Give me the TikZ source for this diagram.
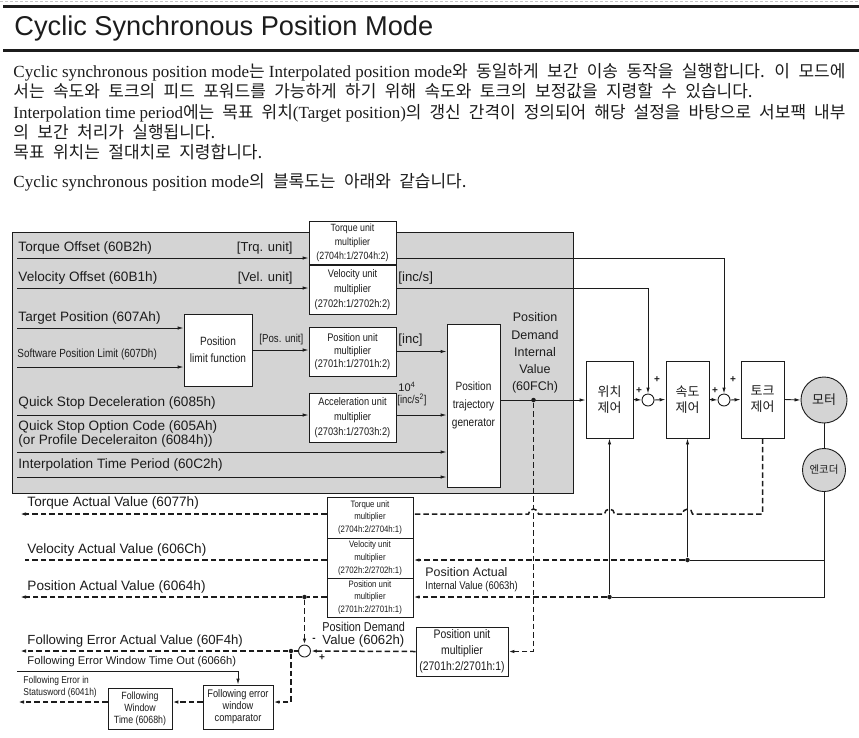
\documentclass[tikz,border=0pt]{standalone}
\usepackage{fontspec}
\setmainfont{Liberation Serif}
\setsansfont{Liberation Sans}
\newfontfamily\kor{Noto Sans CJK KR}
\newfontfamily\kortxt{Noto Sans CJK KR}[WordSpace=2.2]
\newfontfamily\narrowsf{Liberation Sans}[FakeStretch=0.84]
\usetikzlibrary{arrows.meta}
\definecolor{panel}{RGB}{212,212,212}
\definecolor{ink}{RGB}{28,28,28}
\newcommand\fsz[2]{\fontsize{#1}{#2}\selectfont}

\begin{document}
\begin{tikzpicture}[
  x=1pt, y=-1pt, line width=0.9pt, color=ink,
  blk/.style={draw,fill=white,inner sep=0pt,align=center,font=\narrowsf\fsz{11}{13}},
  sum/.style={circle,draw,fill=white,minimum size=12pt,inner sep=0pt},
  jdot/.style={circle,fill,minimum size=4.5pt,inner sep=0pt},
  lbl/.style={anchor=west,inner sep=0pt,font=\sffamily\fsz{13.6}{16}},
  sgn/.style={inner sep=0pt,font=\sffamily\bfseries\fsz{10}{10}},
  fbk/.style={dash pattern=on 5.5pt off 3pt,line width=1.5pt},
  arr/.style={-{Latex[length=6pt,width=3.5pt]}},
  txt/.style={anchor=base west,inner sep=0pt,font=\fsz{17}{20}}
]
  \fill[white] (0,0) rectangle (859,737);
  \useasboundingbox (0,0) rectangle (859,737);
  \draw[gray!45,dash pattern=on 3pt off 2pt,line width=0.5pt] (0,1.5) -- (859,1.5);
  \draw[line width=3pt] (3,6.5) -- (859,6.5);
  \node[anchor=base west,inner sep=0pt,font=\sffamily\fsz{27.2}{30}] (title) at (14,35) {Cyclic Synchronous Position Mode};
  \draw[line width=3pt] (3,50) -- (859,50);

  \node[txt] (l1) at (13,77.5) {\makebox[832pt][s]{Cyclic synchronous position mode{\kortxt 는} Interpolated position mode{\kortxt 와 동일하게 보간 이송 동작을 실행합니다. 이 모드에}}};
  \node[txt] (l2) at (13,97.8) {\kortxt 서는 속도와 토크의 피드 포워드를 가능하게 하기 위해 속도와 토크의 보정값을 지령할 수 있습니다.};
  \node[txt] (l3) at (13,118) {\makebox[832pt][s]{Interpolation time period{\kortxt 에는 목표 위치}(Target position){\kortxt 의 갱신 간격이 정의되어 해당 설정을 바탕으로 서보팩 내부}}};
  \node[txt] (l4) at (13,138.2) {\kortxt 의 보간 처리가 실행됩니다.};
  \node[txt] (l5) at (13,158.5) {\kortxt 목표 위치는 절대치로 지령합니다.};
  \node[txt] (l6) at (13,187) {Cyclic synchronous position mode{\kortxt 의 블록도는 아래와 같습니다.}};

  \draw[fill=panel] (12,232) rectangle (573,493);

  \node[blk,minimum width=87pt,minimum height=43pt,font=\narrowsf\fsz{10.5}{14}] (tqm) at (352.5,242.5) {Torque unit\\multiplier\\(2704h:1/2704h:2)};
  \node[blk,minimum width=87pt,minimum height=49pt,font=\narrowsf\fsz{11}{15}] (vlm) at (352.5,289.5) {Velocity unit\\multiplier\\(2702h:1/2702h:2)};
  \node[blk,minimum width=68pt,minimum height=72pt,font=\narrowsf\fsz{12}{17}] (plf) at (218,350) {Position\\limit function};
  \node[blk,minimum width=87pt,minimum height=49pt,font=\narrowsf\fsz{11}{13}] (psm) at (352.5,351.5) {Position unit\\multiplier\\(2701h:1/2701h:2)};
  \node[blk,minimum width=87pt,minimum height=49pt,font=\narrowsf\fsz{11}{15}] (acm) at (352.5,417.5) {Acceleration unit\\multiplier\\(2703h:1/2703h:2)};
  \node[blk,minimum width=53pt,minimum height=163pt,font=\narrowsf\fsz{12}{18}] (ptg) at (473.5,405.5) {Position\\trajectory\\generator};

  \node[blk,minimum width=47pt,minimum height=77pt,font=\kor\fsz{13}{16}] (pc) at (609.5,399.5) {위치\\제어};
  \node[blk,minimum width=43pt,minimum height=77pt,font=\kor\fsz{13}{16}] (vc) at (687.5,399.5) {속도\\제어};
  \node[blk,minimum width=43pt,minimum height=77pt,font=\kor\fsz{13}{16}] (tc) at (762.5,399.5) {토크\\제어};
  \node[sum] (s1) at (648,400) {};
  \node[sum] (s2) at (724,400) {};
  \node[circle,draw,fill=panel,minimum size=46pt,inner sep=0pt,font=\kor\fsz{13}{15}] (mot) at (824,400) {모터};
  \node[circle,draw,fill=panel,minimum size=43pt,inner sep=0pt,font=\kor\fsz{10.5}{12}] (enc) at (824,470) {엔코더};

  \node[blk,minimum width=86pt,minimum height=41pt,font=\narrowsf\fsz{9.3}{12.8}] (tqf) at (370,517.5) {Torque unit\\multiplier\\(2704h:2/2704h:1)};
  \node[blk,minimum width=86pt,minimum height=40pt,font=\narrowsf\fsz{9.3}{12.8}] (vlf) at (370,558) {Velocity unit\\multiplier\\(2702h:2/2702h:1)};
  \node[blk,minimum width=86pt,minimum height=39pt,font=\narrowsf\fsz{9.3}{12.5}] (psf) at (370,597.5) {Position unit\\multiplier\\(2701h:2/2701h:1)};
  \node[blk,minimum width=92pt,minimum height=49pt,font=\narrowsf\fsz{12.4}{16}] (pdm) at (462,651.5) {Position unit\\multiplier\\(2701h:2/2701h:1)};
  \node[sum] (s3) at (304.5,651) {};
  \node[blk,minimum width=70pt,minimum height=44pt,font=\narrowsf\fsz{11}{12}] (cmp) at (238,707) {Following error\\window\\comparator};
  \node[blk,minimum width=64pt,minimum height=41pt,font=\narrowsf\fsz{10.5}{12}] (fwt) at (140,708.5) {Following\\Window\\Time (6068h)};

  \node[jdot] (d1) at (533.5,400) {};
  \node[jdot] (d2) at (609.5,597) {};
  \node[jdot] (d3) at (687.5,560) {};
  \node[jdot] (d4) at (304.5,597) {};
  \node[jdot] (d5) at (291,651) {};

  \coordinate (i1) at (17,258);
  \coordinate (i2) at (17,288);
  \coordinate (i3) at (17,328);
  \coordinate (i4) at (17,367);
  \coordinate (i5) at (17,415);
  \coordinate (i6) at (17,452);
  \coordinate (i7) at (17,477);
  \coordinate (o1) at (20,514);
  \coordinate (o2) at (25,560);
  \coordinate (o3) at (20,597);
  \coordinate (o4) at (20,651);
  \coordinate (o5) at (18,702);
  \coordinate (w1) at (17,671);

  \draw[arr] (i1) -- (i1 -| tqm.west);
  \draw[arr] (i2) -- (i2 -| vlm.west);
  \draw[arr] (i3) -- (i3 -| plf.west);
  \draw[arr] (i4) -- (i4 -| plf.west);
  \draw[arr] (plf.east) -- (plf.east -| psm.west);
  \draw[arr] (psm.east) -- (psm.east -| ptg.west);
  \draw[arr] (i5) -- (i5 -| acm.west);
  \draw[arr] (i5 -| acm.east) -- (i5 -| ptg.west);
  \draw[arr] (i6) -- (i6 -| ptg.west);
  \draw[arr] (i7) -- (i7 -| ptg.west);
  \draw[arr] (i1 -| tqm.east) -| (s2.north);
  \draw[arr] (i2 -| vlm.east) -| (s1.north);
  \draw[arr] (d1 -| ptg.east) -- (d1 -| pc.west);
  \draw[arr] (pc.east) -- (s1.west);
  \draw[arr] (s1.east) -- (vc.west);
  \draw[arr] (vc.east) -- (s2.west);
  \draw[arr] (s2.east) -- (tc.west);
  \draw[arr] (tc.east) -- (mot.west);
  \draw (mot.south) -- (enc.north);

  \draw (enc.south) |- (d2);
  \draw (enc.south |- d3) -- (d3);
  \draw[arr] (d2) -- (pc.south);
  \draw[arr] (d3) -- (vc.south);
  \draw[fbk,arr] (d3) -- (d3 -| vlf.east);
  \draw[fbk,arr] (d2) -- (d2 -| psf.east);
  \draw[fbk] (tc.south) |- (692.5,514) arc[start angle=0,end angle=-180,radius=5] -- (614.5,514) arc[start angle=0,end angle=-180,radius=5] -- (538.5,514) arc[start angle=0,end angle=-180,radius=5] -- (o1 -| tqf.east);
  \draw[fbk,arr] (o1 -| tqf.west) -- (o1);
  \draw[fbk] (o2 -| vlf.west) -- (o2);
  \draw[fbk] (d4 -| psf.west) -- (d4);
  \draw[fbk,arr] (d4) -- (o3);
  \draw[fbk,arr] (d4) -- (s3.north);
  \draw[fbk,arr] (d1) |- (pdm.east);
  \draw[fbk,arr] (pdm.west) -- (s3.east);
  \draw[fbk] (s3.west) -- (d5);
  \draw[fbk,arr] (d5) -- (o4);
  \draw[fbk,arr] (d5) |- (o5 -| cmp.east);
  \draw[fbk,arr] (o5 -| cmp.west) -- (o5 -| fwt.east);
  \draw[fbk,arr] (o5 -| fwt.west) -- (o5);
  \draw[arr] (w1) -| (cmp.north);

  \node[sgn] (p1) at (639,391) {+};
  \node[sgn] (p2) at (657,380) {+};
  \node[sgn] (p3) at (715,391) {+};
  \node[sgn] (p4) at (733,380) {+};
  \node[sgn] (m1) at (314,640) {-};
  \node[sgn] (p5) at (322,658) {+};

  \node[lbl] (tqo) at (18,248) {Torque Offset (60B2h)};
  \node[lbl] (vlo) at (18,278) {Velocity Offset (60B1h)};
  \node[lbl] (tgp) at (18,318) {Target Position (607Ah)};
  \node[lbl,font=\narrowsf\fsz{11.8}{14}] (spl) at (17,354) {Software Position Limit (607Dh)};
  \node[lbl] (qsd) at (18,403) {Quick Stop Deceleration (6085h)};
  \node[lbl,align=left,font=\sffamily\fsz{13.6}{14}] (qso) at (18,434) {Quick Stop Option Code (605Ah)\\(or Profile Deceleraiton (6084h))};
  \node[lbl] (itp) at (18,465) {Interpolation Time Period (60C2h)};
  \node[lbl,anchor=east,font=\sffamily\fsz{13}{15}] (tqu) at (293,248) {[Trq. unit]};
  \node[lbl,anchor=east,font=\sffamily\fsz{13}{15}] (vlu) at (293,278) {[Vel. unit]};
  \node[lbl,font=\narrowsf\fsz{11.5}{13}] (psu) at (259,340) {[Pos. unit]};
  \node[lbl,font=\sffamily\fsz{13.2}{15}] (ics) at (398,278) {[inc/s]};
  \node[lbl,font=\sffamily\fsz{13.2}{15}] (inc) at (398,340) {[inc]};
  \node[lbl,font=\sffamily\fsz{11}{13}] (e4) at (398,387) {10\textsuperscript{4}};
  \node[lbl,font=\narrowsf\fsz{11.3}{13}] (ics2) at (397,400) {[inc/s\textsuperscript{2}]};
  \node[align=center,inner sep=0pt,font=\sffamily\fsz{12.5}{17.2}] (pdi) at (535,353) {Position\\Demand\\Internal\\Value\\(60FCh)};

  \node[lbl] (tav) at (27,503) {Torque Actual Value (6077h)};
  \node[lbl] (vav) at (27,550) {Velocity Actual Value (606Ch)};
  \node[lbl] (pav) at (27,587) {Position Actual Value (6064h)};
  \node[lbl,font=\sffamily\fsz{13.2}{15}] (fea) at (27,641) {Following Error Actual Value (60F4h)};
  \node[lbl,font=\sffamily\fsz{11.2}{13}] (fwo) at (27,662) {Following Error Window Time Out (6066h)};
  \node[lbl,align=left,font=\narrowsf\fsz{10}{12}] (fes) at (23,687) {Following Error in\\Statusword (6041h)};
  \node[lbl,font=\sffamily\fsz{12.4}{14}] (pai) at (425,572) {Position Actual};
  \node[lbl,font=\narrowsf\fsz{11.2}{13}] (pai2) at (425,587) {Internal Value (6063h)};
  \node[lbl,font=\narrowsf\fsz{12.9}{14}] (pdv) at (322,627) {Position Demand};
  \node[lbl,font=\sffamily\fsz{13.2}{15}] (pdv2) at (322,641) {Value (6062h)};
\end{tikzpicture}
\end{document}
